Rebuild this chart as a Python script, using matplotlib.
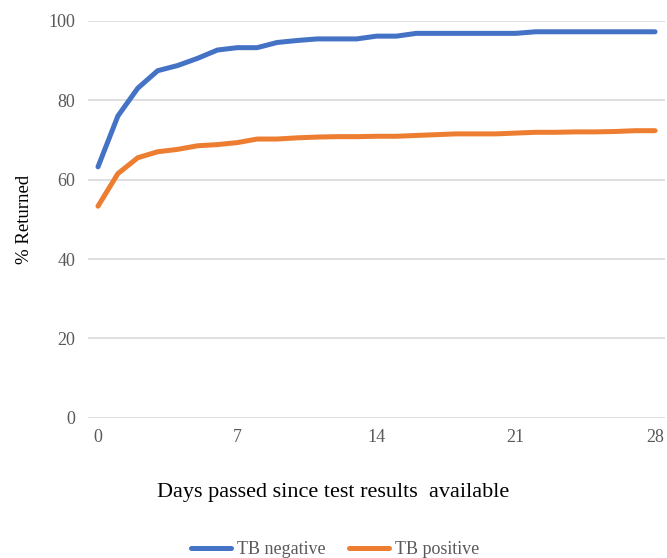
import matplotlib.pyplot as plt

days = list(range(29))
tb_negative = [63.2, 76.0, 83.0, 87.4, 88.7, 90.5, 92.6, 93.2, 93.2, 94.5,
               95.0, 95.4, 95.4, 95.4, 96.1, 96.1, 96.8, 96.8, 96.8, 96.8,
               96.8, 96.8, 97.2, 97.2, 97.2, 97.2, 97.2, 97.2, 97.2]
tb_positive = [53.3, 61.5, 65.5, 67.0, 67.6, 68.5, 68.8, 69.3, 70.2, 70.2,
               70.5, 70.7, 70.8, 70.8, 70.9, 70.9, 71.1, 71.3, 71.5, 71.5,
               71.5, 71.7, 71.9, 71.9, 72.0, 72.0, 72.1, 72.3, 72.3]
xticks = [0, 7, 14, 21, 28]
yticks = [0, 20, 40, 60, 80, 100]

plt.rcParams['font.family'] = ['Liberation Serif', 'DejaVu Serif']

fig = plt.figure(figsize=(6.67, 5.58), dpi=100)
ax = fig.add_axes([0.132, 0.251, 0.865, 0.712])

ax.plot(days, tb_negative, color='#4472C4', lw=3.6, solid_capstyle='round',
        solid_joinstyle='round', label='TB negative')
ax.plot(days, tb_positive, color='#ED7D31', lw=3.6, solid_capstyle='round',
        solid_joinstyle='round', label='TB positive')

ax.set_xlim(-0.5, 28.5)
ax.set_ylim(0, 100)
ax.set_xticks(xticks)
ax.set_yticks(yticks)
ax.grid(axis='y', color='#D9D9D9', lw=1.2)
ax.set_axisbelow(True)
for s in ax.spines.values():
    s.set_visible(False)
ax.tick_params(length=0, labelsize=13, labelcolor='#595959')
ax.tick_params(axis='y', pad=9)
ax.tick_params(axis='x', pad=8)

ax.set_xlabel('Days passed since test results  available', fontsize=16)
ax.xaxis.set_label_coords((0.5 - 0.132) / 0.865, -0.165)
ax.set_ylabel('% Returned', fontsize=13.5)
ax.yaxis.set_label_coords(-0.095, 0.5)

leg = fig.legend(loc='center', bbox_to_anchor=(0.502, 0.015), ncol=2, frameon=False,
                 fontsize=13, handlelength=2.25, handletextpad=0.3, columnspacing=1.3)
for t in leg.get_texts():
    t.set_color('#595959')

fig.savefig('out.png', dpi=100)
